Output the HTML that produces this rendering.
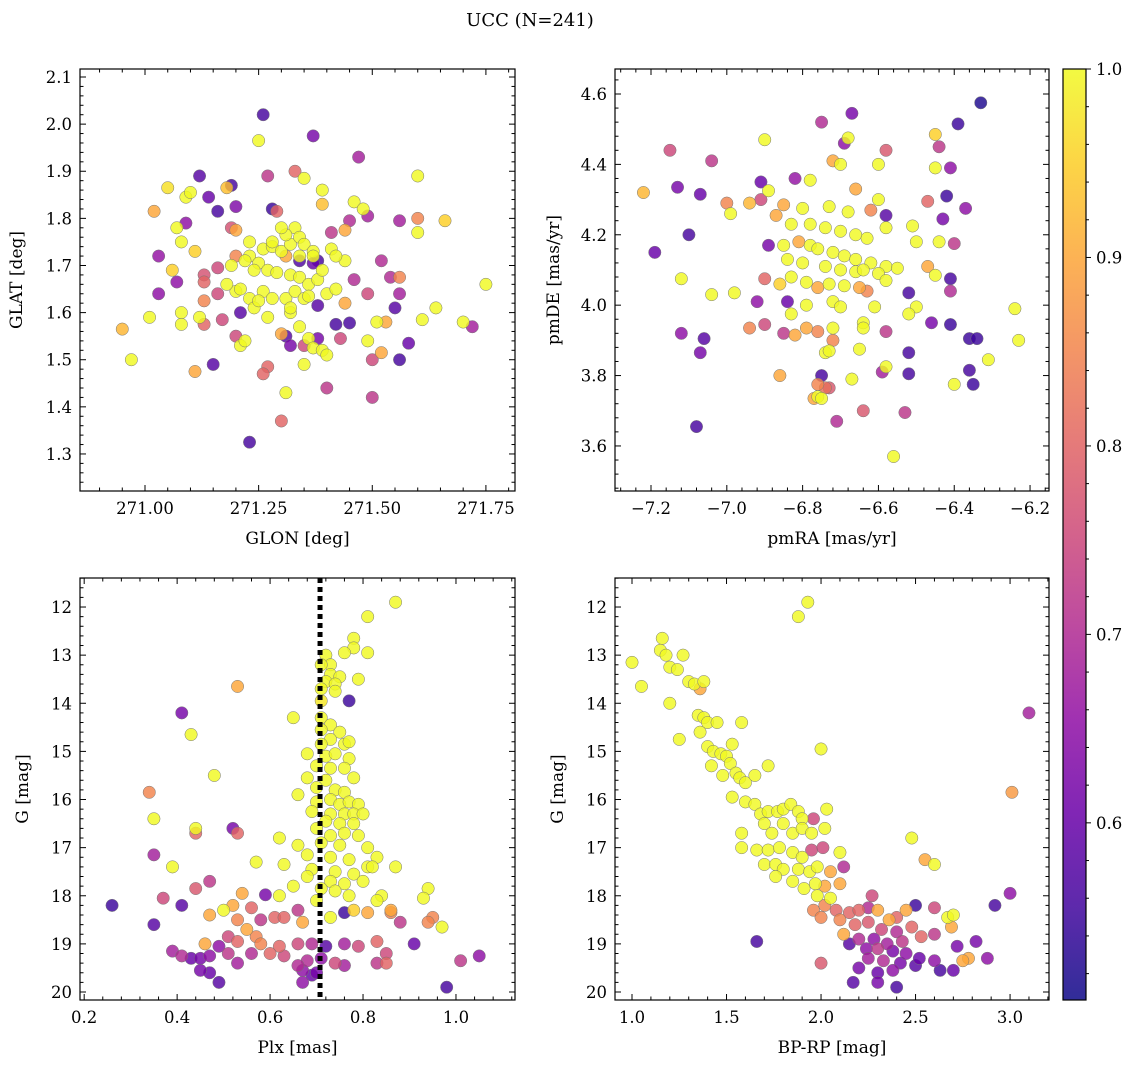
<!DOCTYPE html>
<html><head><meta charset="utf-8"><style>
html,body{margin:0;padding:0;background:#fff}
svg{display:block;font-family:"DejaVu Serif","Liberation Serif",serif}
</style></head><body>
<svg id="chart" width="1136" height="1068" viewBox="0 0 1136 1068" xmlns="http://www.w3.org/2000/svg">
<defs>
<linearGradient id="plasma" x1="0" y1="1" x2="0" y2="0">
<stop offset="0" stop-color="#0d0887"/><stop offset="0.1" stop-color="#41049d"/><stop offset="0.2" stop-color="#6a00a8"/><stop offset="0.3" stop-color="#8f0da4"/><stop offset="0.4" stop-color="#b12a90"/><stop offset="0.5" stop-color="#cc4778"/><stop offset="0.6" stop-color="#e16462"/><stop offset="0.7" stop-color="#f2844b"/><stop offset="0.8" stop-color="#fca636"/><stop offset="0.9" stop-color="#fcce25"/><stop offset="1" stop-color="#f0f921"/>
</linearGradient>
</defs>
<text x="530" y="26" text-anchor="middle" font-size="18">UCC (N=241)</text>
</svg>
<script>
// ---- data: [x, y, membership probability] ----
const glonGlat = [[271.26,2.02,.56],[271.25,1.965,1],[271.37,1.975,.62],[271.47,1.93,.68],[271.33,1.90,.8],[271.27,1.89,.72],[271.35,1.885,1],[271.19,1.87,.56],[271.05,1.865,.97],[271.02,1.815,.9],[271.12,1.89,.58],[271.18,1.865,.93],[271.14,1.845,.6],[271.60,1.89,1],[271.39,1.86,1],[271.39,1.83,.93],[271.46,1.835,1],[271.48,1.82,1],[271.09,1.845,1],[271.10,1.855,1],[271.16,1.815,.56],[271.20,1.825,.63],[271.09,1.79,.65],[271.19,1.78,.77],[271.20,1.775,.9],[271.28,1.82,.55],[271.29,1.815,.8],[271.45,1.795,.7],[271.44,1.775,.9],[271.41,1.77,.72],[271.49,1.805,.68],[271.56,1.795,.68],[271.60,1.80,.85],[271.66,1.795,.95],[271.08,1.75,1],[271.11,1.73,.95],[271.07,1.78,1],[271.06,1.69,.95],[271.13,1.68,.77],[271.16,1.695,.75],[271.20,1.72,.85],[271.23,1.72,1],[271.31,1.72,.9],[271.34,1.71,.57],[271.37,1.705,.6],[271.38,1.71,.56],[271.44,1.71,1],[271.46,1.67,.7],[271.52,1.71,.7],[271.54,1.675,.7],[271.56,1.675,.85],[271.03,1.72,.66],[271.07,1.665,.65],[271.13,1.665,.8],[271.13,1.625,.85],[271.16,1.64,.75],[271.20,1.645,1],[271.38,1.615,.58],[271.44,1.62,.9],[271.49,1.64,.75],[271.56,1.64,.68],[271.75,1.66,1],[271.21,1.6,.58],[271.17,1.585,.75],[271.12,1.59,1],[271.08,1.60,1],[271.08,1.575,1],[271.03,1.64,.65],[271.13,1.575,.8],[271.20,1.55,.75],[271.31,1.55,.58],[271.42,1.575,.56],[271.45,1.578,.56],[271.51,1.58,1],[271.52,1.515,.9],[271.53,1.58,.9],[271.55,1.61,.58],[271.58,1.535,.6],[271.64,1.61,1],[271.70,1.58,1],[271.72,1.57,.68],[271.60,1.77,1],[271.61,1.585,1],[270.95,1.565,.92],[270.97,1.50,1],[271.01,1.59,1],[271.11,1.475,.9],[271.15,1.49,.58],[271.21,1.53,1],[271.22,1.54,1],[271.27,1.485,.8],[271.32,1.53,.62],[271.34,1.57,1],[271.35,1.53,.75],[271.36,1.545,1],[271.37,1.525,1],[271.38,1.545,.62],[271.39,1.52,1],[271.35,1.49,1],[271.40,1.51,1],[271.43,1.545,.75],[271.40,1.44,.72],[271.50,1.42,.72],[271.50,1.50,.75],[271.49,1.54,1],[271.56,1.50,.56],[271.31,1.43,1],[271.32,1.60,1],[271.30,1.555,.9],[271.23,1.325,.56],[271.30,1.37,.8],[271.26,1.47,.8],[271.23,1.75,1],[271.26,1.735,1],[271.28,1.74,1],[271.30,1.73,1],[271.32,1.745,1],[271.33,1.78,1],[271.34,1.76,1],[271.35,1.745,1],[271.37,1.73,1],[271.31,1.765,1],[271.30,1.78,1],[271.28,1.75,1],[271.22,1.71,1],[271.25,1.705,1],[271.27,1.69,1],[271.29,1.685,1],[271.32,1.68,1],[271.34,1.675,1],[271.36,1.66,1],[271.38,1.67,1],[271.39,1.69,1],[271.41,1.735,1],[271.42,1.72,1],[271.37,1.72,1],[271.34,1.72,1],[271.24,1.69,1],[271.26,1.645,1],[271.23,1.63,1],[271.28,1.63,1],[271.31,1.63,1],[271.33,1.645,1],[271.24,1.61,1],[271.32,1.61,1],[271.35,1.63,1],[271.36,1.635,1],[271.27,1.59,1],[271.25,1.625,1],[271.40,1.64,1],[271.42,1.65,1],[271.18,1.66,1],[271.19,1.70,1],[271.21,1.65,1]];
const pmraPmde = [[-6.33,4.575,.52],[-6.39,4.515,.55],[-6.67,4.545,.62],[-6.75,4.52,.7],[-6.45,4.485,.95],[-6.44,4.45,.72],[-6.90,4.47,1],[-6.68,4.475,1],[-6.69,4.46,.65],[-6.58,4.44,.78],[-7.15,4.44,.75],[-7.04,4.41,.72],[-6.72,4.41,.9],[-6.70,4.40,1],[-6.60,4.40,1],[-6.41,4.39,.65],[-6.45,4.39,1],[-7.13,4.335,.62],[-7.07,4.315,.6],[-6.91,4.35,.6],[-6.89,4.325,1],[-6.82,4.36,.66],[-6.78,4.355,1],[-6.66,4.33,.9],[-6.42,4.31,.55],[-6.37,4.275,.65],[-6.47,4.295,.8],[-7.22,4.32,.92],[-6.94,4.29,.92],[-7.00,4.29,.85],[-6.91,4.30,.75],[-6.85,4.285,.9],[-6.80,4.275,1],[-6.73,4.28,1],[-6.68,4.265,1],[-6.60,4.30,1],[-6.58,4.255,.58],[-6.62,4.27,.85],[-6.43,4.245,.62],[-6.51,4.225,1],[-6.58,4.22,1],[-7.10,4.20,.56],[-6.99,4.26,1],[-6.87,4.255,.9],[-6.83,4.23,1],[-6.78,4.23,1],[-6.74,4.22,1],[-6.70,4.21,1],[-6.66,4.20,1],[-6.63,4.19,1],[-6.50,4.18,1],[-6.44,4.18,1],[-6.40,4.175,.72],[-7.19,4.15,.6],[-6.89,4.17,.62],[-6.85,4.17,1],[-6.81,4.18,.9],[-6.78,4.17,1],[-6.76,4.16,1],[-6.72,4.15,1],[-6.69,4.14,1],[-6.66,4.13,1],[-6.62,4.12,1],[-6.58,4.11,1],[-6.55,4.105,1],[-6.84,4.13,1],[-6.80,4.12,1],[-6.74,4.11,1],[-6.70,4.10,1],[-6.66,4.095,1],[-6.64,4.10,1],[-6.60,4.09,1],[-6.47,4.11,.9],[-6.45,4.085,1],[-6.41,4.075,.56],[-7.12,4.075,1],[-6.90,4.075,.8],[-6.86,4.06,.95],[-6.83,4.08,1],[-6.79,4.065,1],[-6.76,4.05,.9],[-6.73,4.06,1],[-6.69,4.055,1],[-6.65,4.05,.9],[-6.63,4.04,.85],[-6.58,4.07,1],[-6.52,4.035,.56],[-6.41,4.04,.7],[-7.04,4.03,1],[-6.98,4.035,1],[-6.92,4.01,.65],[-6.84,4.01,.6],[-6.79,4.00,1],[-6.72,4.01,1],[-6.70,3.995,1],[-6.61,3.995,1],[-6.50,3.995,1],[-6.52,3.975,1],[-6.24,3.99,1],[-6.83,3.975,1],[-6.90,3.945,.75],[-6.94,3.935,.85],[-6.79,3.935,.9],[-6.85,3.92,.72],[-6.76,3.925,.85],[-6.72,3.935,1],[-6.64,3.95,1],[-6.64,3.935,1],[-6.58,3.925,.72],[-6.46,3.95,.62],[-6.41,3.945,.55],[-7.12,3.92,.65],[-7.06,3.905,.58],[-6.72,3.90,.85],[-6.82,3.915,.9],[-6.36,3.905,.55],[-6.34,3.905,.55],[-6.23,3.90,1],[-7.07,3.865,.62],[-6.74,3.865,1],[-6.73,3.87,1],[-6.65,3.875,1],[-6.52,3.865,.56],[-6.31,3.845,1],[-6.58,3.825,1],[-6.59,3.81,.68],[-6.36,3.815,.56],[-6.52,3.805,.56],[-6.67,3.79,1],[-6.75,3.80,.56],[-6.86,3.80,.9],[-6.76,3.775,.85],[-6.74,3.765,.82],[-6.73,3.765,.78],[-6.40,3.775,1],[-6.35,3.775,.55],[-6.76,3.74,1],[-6.75,3.735,1],[-6.77,3.735,.9],[-6.64,3.70,.78],[-6.53,3.695,.72],[-6.71,3.67,.7],[-7.08,3.655,.56],[-6.56,3.57,1]];
const plxG = [[0.87,11.9,1],[0.81,12.2,1],[0.78,12.65,1],[0.78,12.85,1],[0.76,12.95,1],[0.81,12.95,1],[0.72,13.0,1],[0.73,13.2,1],[0.71,13.2,1],[0.73,13.4,1],[0.75,13.45,1],[0.72,13.55,1],[0.74,13.6,1],[0.79,13.5,1],[0.71,13.7,1],[0.74,13.75,1],[0.71,13.95,.98],[0.77,13.95,.55],[0.65,14.3,1],[0.71,14.3,1],[0.73,14.45,1],[0.75,14.6,1],[0.71,14.55,1],[0.73,14.75,1],[0.71,14.85,1],[0.76,14.85,1],[0.68,15.05,1],[0.72,15.1,1],[0.74,15.05,1],[0.77,14.8,1],[0.77,15.15,1],[0.70,15.3,1],[0.73,15.35,1],[0.76,15.35,1],[0.68,15.55,1],[0.72,15.6,1],[0.78,15.55,1],[0.70,15.75,1],[0.74,15.8,1],[0.76,15.85,1],[0.66,15.9,1],[0.70,16.05,1],[0.73,16.0,1],[0.75,16.1,1],[0.77,16.05,1],[0.79,16.1,1],[0.69,16.25,1],[0.73,16.3,1],[0.76,16.3,1],[0.78,16.3,1],[0.80,16.3,1],[0.72,16.45,1],[0.75,16.5,1],[0.78,16.5,1],[0.70,16.6,1],[0.73,16.75,1],[0.76,16.7,1],[0.79,16.75,1],[0.62,16.8,1],[0.66,16.95,1],[0.71,16.9,1],[0.75,16.95,1],[0.81,17.0,1],[0.68,17.15,1],[0.73,17.2,1],[0.77,17.25,1],[0.83,17.2,1],[0.57,17.3,1],[0.63,17.35,1],[0.69,17.45,1],[0.74,17.5,1],[0.81,17.4,1],[0.82,17.4,1],[0.87,17.4,1],[0.78,17.55,1],[0.68,17.6,1],[0.73,17.7,1],[0.76,17.75,1],[0.80,17.7,1],[0.65,17.8,1],[0.71,17.85,1],[0.74,17.9,1],[0.62,18.0,1],[0.77,18.0,1],[0.84,18.0,1],[0.94,17.85,1],[0.93,18.05,1],[0.70,18.1,1],[0.83,18.1,1],[0.78,18.3,.95],[0.76,18.35,.55],[0.81,18.35,.9],[0.86,18.3,.9],[0.73,18.45,1],[0.53,13.65,.9],[0.41,14.2,.62],[0.43,14.65,1],[0.48,15.5,1],[0.34,15.85,.85],[0.35,16.4,1],[0.44,16.6,1],[0.44,16.7,.8],[0.52,16.6,.62],[0.53,16.7,.8],[0.35,17.15,.68],[0.39,17.4,1],[0.47,17.7,.72],[0.44,17.85,.78],[0.37,18.05,.75],[0.41,18.2,.58],[0.54,17.95,.9],[0.59,17.98,.62],[0.26,18.2,.55],[0.35,18.6,.58],[0.47,18.4,.9],[0.50,18.3,1],[0.52,18.2,.9],[0.56,18.25,.8],[0.53,18.5,.85],[0.58,18.5,.72],[0.61,18.45,.8],[0.66,18.3,.72],[0.63,18.45,.8],[0.67,18.55,.9],[0.55,18.7,.9],[0.57,18.85,.85],[0.51,18.85,.75],[0.46,19.0,.9],[0.49,19.05,.65],[0.53,18.95,.8],[0.58,19.0,.85],[0.62,19.05,.8],[0.66,19.0,.75],[0.69,19.0,.7],[0.72,19.05,.58],[0.76,19.0,.68],[0.79,19.05,.75],[0.83,18.95,.8],[0.91,19.0,.6],[0.95,18.45,.85],[0.94,18.55,.85],[0.97,18.65,1],[0.86,18.35,.85],[0.88,18.55,.72],[0.39,19.15,.68],[0.41,19.25,.7],[0.43,19.3,.6],[0.45,19.3,.62],[0.47,19.25,.65],[0.51,19.2,.72],[0.56,19.2,.7],[0.60,19.2,.8],[0.63,19.25,.75],[0.68,19.35,.7],[0.71,19.3,.65],[0.74,19.4,.75],[0.76,19.45,.68],[0.83,19.4,.72],[0.85,19.4,.8],[0.45,19.55,.62],[0.47,19.6,.6],[0.53,19.4,.68],[0.66,19.45,.7],[0.67,19.55,.65],[0.70,19.6,.62],[0.49,19.8,.58],[0.67,19.8,.65],[0.69,19.65,.6],[1.01,19.35,.72],[1.05,19.25,.65],[0.98,19.9,.56],[0.85,19.2,.75]];
const bprpG = [[1.0,13.15,1],[1.05,13.65,1],[1.16,12.65,1],[1.15,12.9,1],[1.18,13.0,1],[1.2,13.25,1],[1.24,13.3,1],[1.27,13.0,1],[1.3,13.55,1],[1.33,13.6,1],[1.36,13.7,.9],[1.38,13.55,1],[1.2,14.0,1],[1.35,14.25,1],[1.38,14.3,1],[1.4,14.4,1],[1.45,14.4,1],[1.25,14.75,1],[1.36,14.6,1],[1.4,14.9,1],[1.43,15.0,1],[1.47,15.05,1],[1.5,15.1,1],[1.53,14.85,1],[1.58,14.4,1],[1.42,15.3,1],[1.48,15.5,1],[1.52,15.25,1],[1.55,15.45,1],[1.57,15.55,1],[1.6,15.65,1],[1.65,15.5,1],[1.72,15.3,1],[1.53,15.95,1],[1.6,16.05,1],[1.65,16.1,1],[1.68,16.3,1],[1.72,16.25,1],[1.77,16.25,1],[1.8,16.2,1],[1.84,16.1,1],[1.88,16.25,1],[1.9,16.4,1],[1.58,16.7,1],[1.7,16.5,1],[1.74,16.7,1],[1.8,16.5,1],[1.85,16.7,1],[1.9,16.6,1],[1.95,16.7,1],[2.02,16.6,1],[2.0,14.95,1],[2.03,16.2,1],[1.96,16.4,.75],[1.66,17.05,1],[1.72,17.05,1],[1.78,17.0,1],[1.85,17.1,1],[1.9,17.2,1],[1.95,17.05,.75],[2.01,17.0,.75],[2.1,17.1,1],[1.7,17.35,1],[1.76,17.35,1],[1.8,17.45,1],[1.88,17.45,1],[1.94,17.5,1],[1.98,17.4,1],[2.05,17.5,.9],[2.12,17.4,.7],[1.76,17.6,1],[1.85,17.7,1],[1.91,17.85,1],[1.97,17.75,1],[2.02,17.8,.9],[2.1,17.75,.9],[1.98,18.0,1],[2.05,18.05,1],[1.88,12.2,1],[1.93,11.9,1],[1.58,17.0,1],[1.66,18.95,.56],[1.96,18.3,.85],[2.02,18.2,.85],[2.08,18.3,.8],[2.15,18.35,.8],[2.2,18.3,.8],[2.27,18.0,.75],[2.25,18.25,.7],[2.3,18.3,.9],[2.36,18.5,.9],[2.4,18.45,.8],[2.45,18.3,.9],[2.5,18.2,.55],[2.6,18.25,.75],[2.67,18.45,1],[2.0,18.45,.85],[2.1,18.5,.85],[2.18,18.6,.8],[2.25,18.55,.78],[2.32,18.7,.75],[2.4,18.75,.7],[2.48,18.65,.8],[2.6,18.8,.72],[2.69,18.65,.9],[2.12,18.8,.9],[2.2,18.9,.7],[2.28,18.9,.65],[2.35,19.0,.68],[2.43,18.95,.72],[2.53,18.85,.8],[2.15,19.0,.58],[2.24,19.1,.65],[2.3,19.1,.72],[2.38,19.15,.62],[2.45,19.2,.65],[2.52,19.3,.6],[2.6,19.35,.65],[2.72,19.05,.62],[2.78,19.3,.9],[2.82,18.95,.62],[2.25,19.3,.68],[2.33,19.35,.7],[2.42,19.4,.62],[2.5,19.45,.58],[2.0,19.4,.78],[2.2,19.5,.62],[2.3,19.6,.6],[2.38,19.55,.65],[2.63,19.55,.56],[2.7,19.55,.6],[2.17,19.8,.58],[2.3,19.8,.62],[2.4,19.9,.56],[2.55,17.25,.9],[2.48,16.8,1],[2.6,17.35,1],[2.88,19.3,.65],[2.92,18.2,.56],[3.0,17.95,.65],[3.01,15.85,.88],[3.1,14.2,.68],[2.7,18.4,1],[2.75,19.35,.9]];
const plxMedian = [0.7075];
const colorTicks = [0.6,0.7,0.8,0.9,1.0];
const vmin = 0.506, vmax = 1.0;

const NS = "http://www.w3.org/2000/svg";
const svg = document.getElementById('chart');
function mk(tag, attrs, parent){const e=document.createElementNS(NS,tag);for(const k in attrs)e.setAttribute(k,attrs[k]);(parent||svg).appendChild(e);return e;}
const stops=["#0d0887","#41049d","#6a00a8","#8f0da4","#b12a90","#cc4778","#e16462","#f2844b","#fca636","#fcce25","#f0f921"];
function hex(h){return [1,3,5].map(i=>parseInt(h.substr(i,2),16));}
function plasma(v){let t=(v-vmin)/(vmax-vmin);t=Math.max(0,Math.min(1,t));const f=t*10,i=Math.min(9,Math.floor(f)),r=f-i;const a=hex(stops[i]),b=hex(stops[i+1]);return `rgb(${a.map((x,k)=>Math.round(x+(b[k]-x)*r)).join(',')})`;}
function fmt(v,d){return v.toFixed(d).replace('-','\u2212');}

function panel(cfg){
  const g=mk('g',{});
  
  
  const {x0,x1,y0,y1}=cfg.box;
  const sx=v=>x0+(v-cfg.xmin)/(cfg.xmax-cfg.xmin)*(x1-x0);
  const sy=cfg.invert? v=>y0+(v-cfg.ymin)/(cfg.ymax-cfg.ymin)*(y1-y0) : v=>y1-(v-cfg.ymin)/(cfg.ymax-cfg.ymin)*(y1-y0);
  const pts=mk('g',{},g);
  
  
  const sorted=cfg.data.slice().sort((a,b)=>a[2]-b[2]);
  sorted.forEach(d=>{
    const c=mk('circle',{cx:sx(d[0]),cy:sy(d[1]),r:6.2,fill:plasma(d[2]),'fill-opacity':0.82,stroke:'#777','stroke-width':0.5},pts);
    
    
  });
  if(cfg.vline!==undefined){
    const l=mk('line',{x1:sx(cfg.vline),x2:sx(cfg.vline),y1:y0,y2:y1,stroke:'#000','stroke-width':5,'stroke-dasharray':'5 4'},g);
    
    
  }
  const tk=mk('g',{stroke:'#000','stroke-width':1},g);
  
  
  const eps=1e-9;
  const xs=Math.ceil(cfg.xmin/cfg.xminor-eps), xe=Math.floor(cfg.xmax/cfg.xminor+eps);
  for(let i=xs;i<=xe;i++){const v=i*cfg.xminor,px=sx(v);const major=Math.abs(v/cfg.xmajor-Math.round(v/cfg.xmajor))<1e-6;const L=major?6:3.5;
    mk('line',{x1:px,x2:px,y1:y1,y2:y1-L},tk);mk('line',{x1:px,x2:px,y1:y0,y2:y0+L},tk);
    if(major){const t=mk('text',{x:px,y:y1+23,'text-anchor':'middle','font-size':16.5,stroke:'none',fill:'#000'},g);t.textContent=fmt(v,cfg.xdec);}}
  const ys=Math.ceil(cfg.ymin/cfg.yminor-eps), ye=Math.floor(cfg.ymax/cfg.yminor+eps);
  for(let i=ys;i<=ye;i++){const v=i*cfg.yminor,py=sy(v);const major=Math.abs(v/cfg.ymajor-Math.round(v/cfg.ymajor))<1e-6;const L=major?6:3.5;
    mk('line',{x1:x0,x2:x0+L,y1:py,y2:py},tk);mk('line',{x1:x1,x2:x1-L,y1:py,y2:py},tk);
    if(major){const t=mk('text',{x:x0-8,y:py+6,'text-anchor':'end','font-size':16.5,stroke:'none',fill:'#000'},g);t.textContent=fmt(v,cfg.ydec);}}
  const r=mk('rect',{x:x0,y:y0,width:x1-x0,height:y1-y0,fill:'none',stroke:'#000','stroke-width':1.2},g);
  
  
  const xl=mk('text',{x:(x0+x1)/2,y:y1+53,'text-anchor':'middle','font-size':17},g);xl.textContent=cfg.xlabel;
  
  
  const yx=cfg.ylabelX,yy=(y0+y1)/2;
  const yl=mk('text',{x:yx,y:yy,'text-anchor':'middle','font-size':17,transform:`rotate(-90 ${yx} ${yy})`},g);yl.textContent=cfg.ylabel;
  
  
}

panel({name:'glon-glat-panel',box:{x0:80,x1:515,y0:69,y1:491},xmin:270.857,xmax:271.814,ymin:1.2214,ymax:2.117,xmajor:0.25,xminor:0.05,ymajor:0.1,yminor:0.02,xdec:2,ydec:1,data:glonGlat,xlabel:'GLON [deg]',ylabel:'GLAT [deg]',ylabelX:22});
panel({name:'pm-panel',box:{x0:615,x1:1049,y0:69,y1:491},xmin:-7.295,xmax:-6.15,ymin:3.472,ymax:4.671,xmajor:0.2,xminor:0.04,ymajor:0.2,yminor:0.04,xdec:1,ydec:1,data:pmraPmde,xlabel:'pmRA [mas/yr]',ylabel:'pmDE [mas/yr]',ylabelX:559});
panel({name:'plx-g-panel',box:{x0:80,x1:515,y0:578,y1:1000},xmin:0.191,xmax:1.127,ymin:11.397,ymax:20.166,invert:true,xmajor:0.2,xminor:0.04,ymajor:1,yminor:0.2,xdec:1,ydec:0,data:plxG,xlabel:'Plx [mas]',ylabel:'G [mag]',ylabelX:28,vline:plxMedian[0]});
panel({name:'cmd-panel',box:{x0:615,x1:1049,y0:578,y1:1000},xmin:0.91,xmax:3.206,ymin:11.397,ymax:20.166,invert:true,xmajor:0.5,xminor:0.1,ymajor:1,yminor:0.2,xdec:1,ydec:0,data:bprpG,xlabel:'BP-RP [mag]',ylabel:'G [mag]',ylabelX:563});

const cb=mk('g',{});


const cy0=69,cy1=1000,cx0=1063,cx1=1086;
const cyS=v=>cy1-(v-vmin)/(vmax-vmin)*(cy1-cy0);
mk('rect',{x:cx0,y:cy0,width:cx1-cx0,height:cy1-cy0,fill:'url(#plasma)','fill-opacity':0.85,stroke:'#000','stroke-width':1.2},cb);
for(let i=26;i<=50;i++){const v=i*0.02;if(v<vmin)continue;const py=cyS(v);const major=i%5===0;
  mk('line',{x1:cx1,x2:cx1+(major?5:3),y1:py,y2:py,stroke:'#000'},cb);}
colorTicks.forEach(v=>{const t=mk('text',{x:cx1+10,y:cyS(v)+6,'font-size':16.5},cb);t.textContent=v.toFixed(1);
  
  });
</script>
</body></html>
